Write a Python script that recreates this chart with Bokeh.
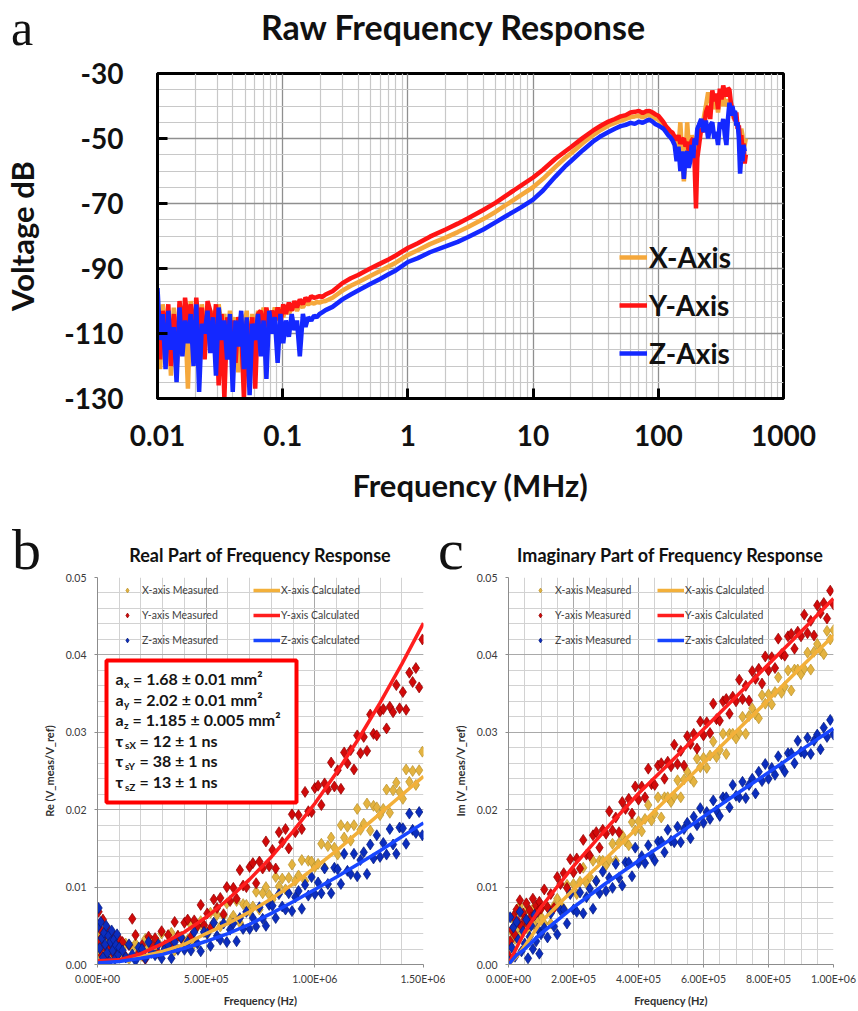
from bokeh.plotting import figure
from bokeh.models import (FixedTicker, CustomJSTickFormatter, PrintfTickFormatter, Legend,
                          LegendItem, Label, BoxAnnotation, Div)
from bokeh.layouts import column, row
from bokeh.embed import file_html
from bokeh.resources import INLINE

FONT = "Lato"

# ---------------- (a) Raw frequency response ----------------
freq_top = [0.0100, 0.0105, 0.0110, 0.0116, 0.0122, 0.0128, 0.0135, 0.0142, 0.0150, 0.0158,
            0.0166, 0.0175, 0.0184, 0.0194, 0.0204, 0.0215, 0.0226, 0.0238, 0.0251, 0.0264,
            0.0278, 0.0293, 0.0308, 0.0325, 0.0342, 0.0360, 0.0379, 0.0399, 0.0420, 0.0442,
            0.0466, 0.0490, 0.0516, 0.0544, 0.0572, 0.0603, 0.0635, 0.0668, 0.0704, 0.0741,
            0.0780, 0.0821, 0.0865, 0.0911, 0.0959, 0.101, 0.106, 0.112, 0.118, 0.124,
            0.130, 0.137, 0.145, 0.152, 0.160, 0.169, 0.178, 0.187, 0.197, 0.207,
            0.22, 0.25, 0.3, 0.35, 0.4, 0.5, 0.6, 0.7, 0.8, 1.0,
            1.2, 1.5, 2.0, 2.5, 3.0, 4.0, 5.0, 6.0, 7.0, 8.0,
            10, 12, 15, 18, 20, 25, 30, 35, 40, 45,
            50, 55, 60, 65, 70, 75, 80, 85, 90, 95,
            100, 105, 110, 115, 120, 125, 130, 135, 140, 145,
            150, 155, 160, 165, 170, 175, 180, 185, 190, 195,
            200, 205, 210, 220, 230, 240, 250, 260, 270, 280,
            290, 300, 310, 320, 330, 340, 350, 360, 370, 380,
            390, 400, 410, 420, 430, 440, 450, 460, 470, 480,
            490, 500]

x_axis_db = [-102, -121, -101, -115, -104, -123, -102, -118, -101, -110,
             -104, -127, -100, -112, -103, -117, -101, -109, -102, -114,
             -103, -120, -101, -108, -104, -116, -103, -110, -105, -122,
             -104, -109, -103, -118, -104, -111, -103, -108, -102, -113,
             -103, -107, -102, -106, -102, -105, -101.5, -104, -102, -101.5,
             -103, -101, -102, -100.5, -101, -100.5, -100.8, -100.3, -100.5, -100.2,
             -100.0, -99.0, -96.8, -95.3, -94.2, -92.3, -90.8, -89.4, -88.2, -85.8,
             -84.4, -82.5, -80.5, -78.8, -77.3, -74.8, -72.6, -70.6, -68.9, -67.4,
             -65.0, -62.4, -58.8, -56.0, -54.6, -51.4, -49.0, -47.3, -46.0, -45.2,
             -44.5, -44.0, -43.4, -43.2, -43.0, -43.5, -42.9, -42.8, -43.2, -43.8,
             -44.2, -45.0, -46.0, -47.0, -48.0, -48.5, -48.7, -50.0, -51.0, -53.0,
             -45.0, -55.0, -63.2, -56.0, -45.0, -52.0, -55.0, -49.0, -51.0, -53.0,
             -56.0, -50.0, -46.0, -48.0, -44.0, -40.0, -35.8, -39.0, -36.0, -41.0,
             -38.0, -42.0, -37.0, -40.0, -36.5, -40.0, -39.0, -38.0, -40.0, -42.0,
             -40.5, -44.0, -43.0, -46.0, -45.0, -48.0, -50.0, -47.0, -49.0, -53.0,
             -52.0, -50.0]

y_axis_db = [-100, -118, -103, -110, -101, -120, -104, -122, -100, -112,
             -99, -107, -101, -114, -99, -109, -102, -118, -100, -103,
             -111, -101, -126, -104, -130, -105, -112, -106, -119, -105,
             -108, -130, -106, -114, -105, -127, -104, -103, -110, -102,
             -108, -103, -106, -102, -107, -101, -104, -100.5, -103, -100,
             -102, -99.5, -101, -99, -100, -98.5, -99, -98.8, -98.5, -98.8,
             -98.0, -97.0, -94.5, -93.0, -92.0, -90.0, -88.5, -87.2, -86.0, -83.7,
             -82.2, -80.2, -78.0, -76.2, -74.6, -72.0, -69.8, -67.7, -66.0, -64.5,
             -62.0, -59.6, -56.3, -54.0, -52.7, -49.8, -47.6, -46.0, -44.8, -44.0,
             -43.2, -42.8, -42.0, -41.8, -41.5, -42.2, -41.6, -41.5, -42.0, -42.6,
             -43.0, -44.0, -45.0, -46.2, -47.0, -47.8, -48.2, -49.5, -50.5, -49.0,
             -51.6, -50.4, -50.0, -52.5, -51.0, -54.0, -53.0, -50.5, -50.0, -58.0,
             -71.5, -56.0, -53.0, -47.0, -48.0, -42.0, -40.0, -44.0, -35.2, -38.5,
             -36.2, -41.0, -34.7, -38.0, -33.7, -36.0, -37.0, -34.5, -35.0, -39.0,
             -41.0, -43.0, -44.6, -42.0, -47.0, -46.0, -51.0, -49.0, -53.6, -51.5,
             -57.7, -55.0]

z_axis_db = [-96, -112, -104, -121, -103, -115, -108, -125, -102, -117,
             -106, -113, -104, -120, -101, -128, -107, -110, -103, -116,
             -105, -123, -102, -112, -106, -118, -104, -128, -106, -114,
             -103, -121, -105, -129, -107, -112, -104, -117, -106, -124,
             -103, -110, -105, -119, -104, -113, -106, -111, -104, -109,
             -106, -117, -104, -108, -105, -106, -104.5, -105, -104, -103.5,
             -102.8, -101.8, -99.5, -98.0, -96.8, -94.8, -93.2, -91.8, -90.6, -88.0,
             -86.8, -85.0, -83.2, -81.8, -80.4, -78.0, -75.8, -74.0, -72.5, -71.2,
             -68.8, -66.0, -61.8, -58.6, -57.0, -53.6, -51.0, -49.2, -48.0, -47.0,
             -46.2, -45.8, -45.2, -45.5, -44.8, -45.2, -44.6, -44.2, -44.8, -45.6,
             -46.0, -46.5, -47.0, -48.0, -49.0, -49.6, -50.6, -52.0, -57.0, -52.5,
             -60.0, -54.0, -62.4, -55.0, -54.0, -59.0, -57.0, -52.0, -56.0, -50.0,
             -52.0, -47.0, -46.0, -44.0, -48.0, -44.5, -50.0, -46.0, -45.0, -50.0,
             -48.0, -52.0, -45.0, -47.0, -44.0, -49.0, -52.0, -44.0, -39.0, -43.0,
             -40.0, -42.0, -41.5, -46.0, -45.0, -50.0, -60.8, -55.0, -57.0, -52.0,
             -54.0, -54.0]

top_x_ticks = [0.01, 0.1, 1, 10, 100, 1000]
top_x_minor = [m * d for d in [0.01, 0.1, 1, 10, 100] for m in range(2, 10)]
top_y_ticks = [-130, -110, -90, -70, -50, -30]
top_y_minor = list(range(-130, -29, 5))

# ---------------- (b) Real part ----------------
freq_b_khz = [0, 5, 10, 15, 20, 25, 30, 35, 40, 45, 50, 55, 60, 65, 70, 75, 80, 85, 90, 95, 100,
              115, 130, 145, 160, 175, 190, 205, 220, 235, 250, 265, 280, 295, 310, 325, 340,
              355, 370, 385, 400, 415, 430, 445, 460, 475, 490, 505, 520, 535, 550, 565, 580,
              595, 610, 625, 640, 655, 670, 685, 700, 715, 730, 745, 760, 775, 790, 805, 820,
              835, 850, 865, 880, 895, 910, 925, 940, 955, 970, 985, 1000, 1015, 1030, 1045,
              1060, 1075, 1090, 1105, 1120, 1135, 1150, 1165, 1180, 1195, 1210, 1225, 1240,
              1255, 1270, 1285, 1300, 1315, 1330, 1345, 1360, 1375, 1390, 1405, 1420, 1435,
              1450, 1465, 1480, 1495]

re_x_meas = [0.0021, 0.0035, 0.0012, 0.0028, 0.0040, 0.0017, 0.0031, 0.0009, 0.0025, 0.0038,
             0.0014, 0.0029, 0.0020, 0.0033, 0.0011, 0.0026, 0.0018, 0.0030, 0.0015, 0.0023, 0.0019,
             0.0013, 0.0027, 0.0007, 0.0022, 0.0027, 0.0018, 0.0011, 0.0033, 0.0022, 0.0030,
             0.0017, 0.0028, 0.0040, 0.0022, 0.0027, 0.0041, 0.0018, 0.0037, 0.0036, 0.0029,
             0.0032, 0.0051, 0.0027, 0.0049, 0.0056, 0.0046, 0.0039, 0.0067, 0.0054, 0.0064,
             0.0049, 0.0063, 0.0079, 0.0056, 0.0063, 0.0082, 0.0054, 0.0078, 0.0077, 0.0069,
             0.0075, 0.0094, 0.0071, 0.0092, 0.0100, 0.0090, 0.0084, 0.0113, 0.0101, 0.0111,
             0.0097, 0.0112, 0.0129, 0.0108, 0.0115, 0.0135, 0.0108, 0.0134, 0.0133, 0.0126,
             0.0130, 0.0156, 0.0125, 0.0153, 0.0164, 0.0151, 0.0142, 0.0180, 0.0164, 0.0178,
             0.0160, 0.0180, 0.0201, 0.0174, 0.0182, 0.0208, 0.0173, 0.0205, 0.0203, 0.0193,
             0.0201, 0.0226, 0.0196, 0.0225, 0.0235, 0.0223, 0.0214, 0.0252, 0.0236, 0.0250,
             0.0232, 0.0251, 0.0275]

re_y_meas = [0.0052, 0.0068, 0.0031, 0.0045, 0.0012, 0.0058, 0.0024, 0.0039, 0.0008, 0.0047,
             0.0019, 0.0035, 0.0027, 0.0042, 0.0015, 0.0030, 0.0022, 0.0036, 0.0011, 0.0028, 0.0033,
             0.0029, 0.0010, 0.0025, 0.0059, 0.0038, 0.0015, 0.0025, 0.0007, 0.0036, 0.0025,
             0.0034, 0.0015, 0.0043, 0.0025, 0.0038, 0.0025, 0.0055, 0.0037, 0.0034, 0.0054,
             0.0058, 0.0036, 0.0057, 0.0050, 0.0077, 0.0051, 0.0066, 0.0047, 0.0084, 0.0073,
             0.0086, 0.0065, 0.0100, 0.0082, 0.0099, 0.0085, 0.0122, 0.0102, 0.0100, 0.0126,
             0.0131, 0.0105, 0.0133, 0.0124, 0.0159, 0.0127, 0.0148, 0.0124, 0.0171, 0.0158,
             0.0175, 0.0150, 0.0194, 0.0171, 0.0193, 0.0175, 0.0223, 0.0198, 0.0197, 0.0228,
             0.0231, 0.0206, 0.0234, 0.0226, 0.0261, 0.0230, 0.0251, 0.0227, 0.0274, 0.0260,
             0.0277, 0.0252, 0.0296, 0.0273, 0.0294, 0.0276, 0.0323, 0.0298, 0.0296, 0.0327,
             0.0330, 0.0305, 0.0333, 0.0326, 0.0361, 0.0331, 0.0352, 0.0329, 0.0377, 0.0365,
             0.0383, 0.0358, 0.0420]

re_z_meas = [0.0048, 0.0073, 0.0021, 0.0055, 0.0034, 0.0009, 0.0041, 0.0026, 0.0050, 0.0015,
             0.0037, 0.0004, 0.0029, 0.0044, 0.0018, 0.0032, 0.0007, 0.0025, 0.0039, 0.0013, 0.0022,
             0.0018, 0.0009, 0.0026, 0.0013, 0.0005, 0.0022, 0.0020, 0.0008, 0.0029, 0.0015,
             0.0012, 0.0026, 0.0008, 0.0020, 0.0025, 0.0008, 0.0029, 0.0019, 0.0035, 0.0019,
             0.0029, 0.0018, 0.0042, 0.0027, 0.0017, 0.0042, 0.0040, 0.0024, 0.0054, 0.0037,
             0.0032, 0.0053, 0.0029, 0.0045, 0.0053, 0.0030, 0.0060, 0.0046, 0.0068, 0.0046,
             0.0060, 0.0049, 0.0074, 0.0059, 0.0050, 0.0077, 0.0076, 0.0060, 0.0091, 0.0075,
             0.0071, 0.0092, 0.0069, 0.0087, 0.0095, 0.0072, 0.0103, 0.0089, 0.0113, 0.0091,
             0.0106, 0.0092, 0.0124, 0.0104, 0.0092, 0.0125, 0.0123, 0.0104, 0.0143, 0.0121,
             0.0117, 0.0143, 0.0114, 0.0135, 0.0145, 0.0117, 0.0155, 0.0137, 0.0167, 0.0139,
             0.0157, 0.0142, 0.0175, 0.0155, 0.0143, 0.0177, 0.0176, 0.0156, 0.0195, 0.0174,
             0.0170, 0.0197, 0.0167]

freq_calc_b_khz = [0, 100, 200, 300, 400, 500, 600, 700, 800, 900, 1000, 1100, 1200, 1300, 1400, 1500]
re_x_calc = [0.0003, 0.0005, 0.0010, 0.0017, 0.0026, 0.0040, 0.0053, 0.0068, 0.0085, 0.0104,
             0.0125, 0.0147, 0.0171, 0.0195, 0.0219, 0.0243]
re_y_calc = [0.0005, 0.0006, 0.0014, 0.0027, 0.0042, 0.0061, 0.0084, 0.0110, 0.0139, 0.0172,
             0.0208, 0.0248, 0.0291, 0.0338, 0.0388, 0.0441]
re_z_calc = [0.0002, 0.0004, 0.0008, 0.0013, 0.0021, 0.0030, 0.0040, 0.0052, 0.0066, 0.0081,
             0.0097, 0.0113, 0.0130, 0.0147, 0.0165, 0.0183]

# ---------------- (c) Imaginary part ----------------
freq_c_khz = [0, 5, 10, 15, 20, 25, 30, 35, 40, 45, 50, 55, 60, 65, 70, 75, 80, 85, 90, 95, 100,
              110, 120, 130, 140, 150, 160, 170, 180, 190, 200, 210, 220, 230, 240, 250, 260,
              270, 280, 290, 300, 310, 320, 330, 340, 350, 360, 370, 380, 390, 400, 410, 420,
              430, 440, 450, 460, 470, 480, 490, 500, 510, 520, 530, 540, 550, 560, 570, 580,
              590, 600, 610, 620, 630, 640, 650, 660, 670, 680, 690, 700, 710, 720, 730, 740,
              750, 760, 770, 780, 790, 800, 810, 820, 830, 840, 850, 860, 870, 880, 890, 900,
              910, 920, 930, 940, 950, 960, 970, 980, 990, 1000]

im_x_meas = [0.0010, 0.0025, 0.0042, 0.0058, 0.0033, 0.0068, 0.0047, 0.0076, 0.0040, 0.0063,
             0.0052, 0.0071, 0.0045, 0.0060, 0.0055, 0.0072, 0.0050, 0.0066, 0.0058, 0.0069, 0.0062,
             0.0053, 0.0074, 0.0053, 0.0076, 0.0085, 0.0077, 0.0072, 0.0103, 0.0092, 0.0104,
             0.0091, 0.0107, 0.0125, 0.0105, 0.0113, 0.0134, 0.0108, 0.0134, 0.0134, 0.0128,
             0.0135, 0.0156, 0.0134, 0.0157, 0.0167, 0.0159, 0.0154, 0.0184, 0.0173, 0.0185,
             0.0172, 0.0188, 0.0206, 0.0186, 0.0195, 0.0216, 0.0190, 0.0216, 0.0216, 0.0210,
             0.0217, 0.0238, 0.0216, 0.0239, 0.0249, 0.0241, 0.0236, 0.0266, 0.0255, 0.0267,
             0.0254, 0.0270, 0.0288, 0.0268, 0.0277, 0.0298, 0.0272, 0.0298, 0.0298, 0.0292,
             0.0299, 0.0320, 0.0298, 0.0321, 0.0331, 0.0323, 0.0318, 0.0348, 0.0337, 0.0349,
             0.0336, 0.0352, 0.0371, 0.0351, 0.0359, 0.0380, 0.0354, 0.0381, 0.0381, 0.0375,
             0.0382, 0.0403, 0.0381, 0.0404, 0.0414, 0.0406, 0.0401, 0.0431, 0.0420, 0.0432]

im_y_meas = [0.0012, 0.0030, 0.0045, 0.0062, 0.0038, 0.0071, 0.0055, 0.0083, 0.0049, 0.0066,
             0.0058, 0.0079, 0.0052, 0.0070, 0.0061, 0.0085, 0.0064, 0.0076, 0.0068, 0.0081, 0.0072,
             0.0097, 0.0074, 0.0091, 0.0073, 0.0113, 0.0104, 0.0118, 0.0099, 0.0136, 0.0119,
             0.0137, 0.0124, 0.0161, 0.0142, 0.0141, 0.0167, 0.0171, 0.0151, 0.0174, 0.0169,
             0.0198, 0.0173, 0.0190, 0.0171, 0.0210, 0.0201, 0.0214, 0.0195, 0.0230, 0.0213,
             0.0230, 0.0216, 0.0253, 0.0233, 0.0232, 0.0257, 0.0260, 0.0240, 0.0262, 0.0256,
             0.0284, 0.0259, 0.0276, 0.0257, 0.0295, 0.0285, 0.0298, 0.0279, 0.0314, 0.0296,
             0.0313, 0.0299, 0.0337, 0.0317, 0.0315, 0.0340, 0.0343, 0.0324, 0.0346, 0.0340,
             0.0368, 0.0343, 0.0360, 0.0341, 0.0379, 0.0369, 0.0382, 0.0363, 0.0398, 0.0380,
             0.0397, 0.0383, 0.0421, 0.0401, 0.0399, 0.0424, 0.0427, 0.0408, 0.0430, 0.0424,
             0.0452, 0.0428, 0.0444, 0.0425, 0.0464, 0.0454, 0.0467, 0.0447, 0.0483, 0.0465]

im_z_meas = [0.0005, 0.0061, 0.0022, 0.0048, 0.0010, 0.0055, 0.0032, 0.0068, 0.0017, 0.0043,
             0.0027, 0.0058, 0.0008, 0.0036, 0.0050, 0.0020, 0.0064, 0.0030, 0.0046, 0.0014, 0.0039,
             0.0047, 0.0035, 0.0066, 0.0049, 0.0039, 0.0070, 0.0071, 0.0053, 0.0091, 0.0071,
             0.0068, 0.0093, 0.0066, 0.0087, 0.0098, 0.0072, 0.0108, 0.0092, 0.0120, 0.0095,
             0.0112, 0.0099, 0.0130, 0.0112, 0.0102, 0.0132, 0.0132, 0.0114, 0.0151, 0.0131,
             0.0140, 0.0131, 0.0154, 0.0141, 0.0134, 0.0159, 0.0159, 0.0145, 0.0174, 0.0160,
             0.0158, 0.0178, 0.0158, 0.0175, 0.0183, 0.0163, 0.0191, 0.0180, 0.0202, 0.0183,
             0.0197, 0.0188, 0.0212, 0.0199, 0.0192, 0.0216, 0.0216, 0.0203, 0.0232, 0.0218,
             0.0216, 0.0236, 0.0215, 0.0232, 0.0240, 0.0221, 0.0249, 0.0237, 0.0259, 0.0240,
             0.0254, 0.0245, 0.0269, 0.0256, 0.0249, 0.0273, 0.0273, 0.0260, 0.0289, 0.0275,
             0.0273, 0.0293, 0.0272, 0.0289, 0.0297, 0.0278, 0.0306, 0.0294, 0.0316, 0.0297]

freq_calc_c_khz = [0, 25, 50, 100, 200, 300, 400, 500, 600, 700, 800, 900, 1000]
im_x_calc = [0.0000, 0.0010, 0.0024, 0.0055, 0.0097, 0.0137, 0.0178, 0.0219, 0.0260, 0.0301,
             0.0342, 0.0384, 0.0425]
im_y_calc = [0.0000, 0.0022, 0.0042, 0.0074, 0.0127, 0.0175, 0.0221, 0.0262, 0.0304, 0.0346,
             0.0388, 0.0430, 0.0473]
im_z_calc = [0.0000, 0.0012, 0.0020, 0.0040, 0.0074, 0.0105, 0.0134, 0.0162, 0.0191, 0.0220,
             0.0248, 0.0277, 0.0305]

series_labels = ["X", "Y", "Z"]
top_colors = ["#F5A83C", "#FF1414", "#1428FF"]
meas_fill = ["#E4B340", "#D10A0A", "#0B2DBE"]
meas_line = ["#B8902A", "#8E0000", "#051A7A"]
calc_colors = ["#F3B03A", "#FF1E1E", "#1846FF"]


def span(text, left, top, family, size, lh, bold=False, center=False):
    st = (f"position:absolute;left:{left}px;top:{top}px;font-family:{family};font-size:{size}px;"
          f"line-height:{lh}px;color:#111111;white-space:nowrap;")
    if bold:
        st += "font-weight:bold;"
    if center:
        st += "transform:translateX(-50%);"
    return f'<span style="{st}">{text}</span>'


SERIF_CSS = "'Liberation Serif'"

# ============ header of a ============
head_a = Div(width=858, height=56, margin=0,
             text='<div style="position:relative;width:858px;height:56px;">'
                  + span("a", 11, 18, SERIF_CSS, 50, 20)
                  + span("Raw Frequency Response", 453, 10, "Lato", 34, 34, bold=True, center=True)
                  + "</div>")

# ============ figure a ============
p1 = figure(width=858, height=462, x_axis_type="log", x_range=(0.01, 1000), y_range=(-130, -30),
            output_backend="svg", toolbar_location=None,
            min_border_left=155, min_border_right=75, min_border_top=17, min_border_bottom=120)
p1.outline_line_color = "black"
p1.outline_line_width = 3
xt = FixedTicker(ticks=top_x_ticks, minor_ticks=top_x_minor)
yt = FixedTicker(ticks=top_y_ticks, minor_ticks=top_y_minor)
p1.xaxis.ticker = xt
p1.xgrid.ticker = xt
p1.yaxis.ticker = yt
p1.ygrid.ticker = yt
p1.xaxis.formatter = CustomJSTickFormatter(code="return tick.toString();")
p1.yaxis.formatter = CustomJSTickFormatter(code="return tick.toString();")
for g in (p1.xgrid, p1.ygrid):
    g.grid_line_color = "#8f8f8f"
    g.grid_line_width = 1.3
    g.minor_grid_line_color = "#c8c8c8"
    g.minor_grid_line_width = 1.2
for ax in (p1.xaxis, p1.yaxis):
    ax.axis_line_width = 3
    ax.axis_line_color = "black"
    ax.major_tick_in = 10
    ax.major_tick_out = 0
    ax.major_tick_line_width = 3
    ax.minor_tick_line_color = None
    ax.major_label_text_font = FONT
    ax.major_label_text_font_style = "bold"
    ax.major_label_text_font_size = "28px"
    ax.major_label_text_color = "#111111"
    ax.axis_label_text_font = FONT
    ax.axis_label_text_font_style = "bold"
    ax.axis_label_text_font_size = "31px"
    ax.axis_label_text_color = "#111111"
p1.yaxis.major_label_standoff = 30
p1.xaxis.major_label_standoff = 22
p1.yaxis.axis_label = "Voltage dB"
p1.xaxis.axis_label = "Frequency (MHz)"
p1.yaxis.axis_label_standoff = 20
p1.xaxis.axis_label_standoff = 17

top_series = [x_axis_db, y_axis_db, z_axis_db]
top_renderers = []
for vals, col in zip(top_series, top_colors):
    top_renderers.append(p1.line(freq_top, vals, line_color=col, line_width=4.5))

leg1 = Legend(items=[LegendItem(label=f"{s}-Axis", renderers=[r]) for s, r in zip(series_labels, top_renderers)],
              location=(462, 28), glyph_width=28, glyph_height=30, label_height=30, spacing=14,
              padding=0, margin=0, label_standoff=2, border_line_color=None, background_fill_alpha=0,
              label_text_font=FONT, label_text_font_style="bold", label_text_font_size="28px",
              label_text_color="#111111")
p1.add_layout(leg1)

# ============ header of b and c ============
head_bc = Div(width=858, height=53, margin=0,
              text='<div style="position:relative;width:858px;height:53px;">'
                   + span("b", 12, 22, SERIF_CSS, 58, 20)
                   + span("Real Part of Frequency Response", 260, 28, "Lato", 18, 18, bold=True, center=True)
                   + span("c", 438, 22, SERIF_CSS, 58, 20)
                   + span("Imaginary Part of Frequency Response", 670, 28, "Lato", 18, 18, bold=True, center=True)
                   + "</div>")


def make_panel(width, left, right, xmax, major_step, minor_step, freq_khz, meas, fcalc_khz, calc,
               ylabel, leg_meas_x, leg_calc_x):
    p = figure(width=width, height=438, x_range=(0, xmax), y_range=(0, 0.05),
               output_backend="svg", toolbar_location=None,
               min_border_left=left, min_border_right=right, min_border_top=6, min_border_bottom=40)
    p.outline_line_color = None
    xmaj = [i * major_step for i in range(int(round(xmax / major_step)) + 1)]
    xmin = [i * minor_step for i in range(int(round(xmax / minor_step)) + 1)]
    xtk = FixedTicker(ticks=xmaj, minor_ticks=xmin)
    ytk = FixedTicker(ticks=[0, 0.01, 0.02, 0.03, 0.04, 0.05],
                      minor_ticks=[i * 0.002 for i in range(26)])
    p.xaxis.ticker = xtk
    p.xgrid.ticker = xtk
    p.yaxis.ticker = ytk
    p.ygrid.ticker = ytk
    p.xaxis.formatter = CustomJSTickFormatter(
        code="return tick.toExponential(2).replace('e+', 'E+0').replace('e-', 'E-0');")
    p.yaxis.formatter = PrintfTickFormatter(format="%.2f")
    for g in (p.xgrid, p.ygrid):
        g.grid_line_color = "#a9a9a9"
        g.grid_line_width = 1
        g.minor_grid_line_color = "#d2d2d2"
        g.minor_grid_line_width = 1
    for ax in (p.xaxis, p.yaxis):
        ax.axis_line_color = "#8c8c8c"
        ax.major_tick_line_color = "#8c8c8c"
        ax.major_tick_in = 0
        ax.major_tick_out = 3
        ax.minor_tick_line_color = None
        ax.major_label_text_font = FONT
        ax.major_label_text_font_size = "10.5px"
        ax.major_label_text_color = "#3a3a3a"
        ax.axis_label_text_font = FONT
        ax.axis_label_text_font_style = "bold"
        ax.axis_label_text_font_size = "11px"
        ax.axis_label_text_color = "#303030"
    p.xaxis.major_label_standoff = 4
    p.yaxis.major_label_standoff = 7
    p.xaxis.axis_label = "Frequency (Hz)"
    p.yaxis.axis_label = ylabel
    p.xaxis.axis_label_standoff = 6
    p.yaxis.axis_label_standoff = 7

    freq_hz = [f * 1e3 for f in freq_khz]
    fcalc_hz = [f * 1e3 for f in fcalc_khz]
    mr, cr = [], []
    for vals, fc, lc in zip(meas, meas_fill, meas_line):
        mr.append(p.scatter(freq_hz, vals, marker="diamond", size=11, fill_color=fc,
                            line_color=lc, line_width=0.7))
    for vals, col in zip(calc, calc_colors):
        cr.append(p.line(fcalc_hz, vals, line_color=col, line_width=3.5))

    common = dict(glyph_height=14, label_height=14, spacing=11, padding=0, margin=0,
                  border_line_color=None, background_fill_alpha=0, label_text_font=FONT,
                  label_text_font_size="10.5px", label_text_color="#404040")
    lm = Legend(items=[LegendItem(label=f"{s}-axis Measured", renderers=[r]) for s, r in zip(series_labels, mr)],
                location=(leg_meas_x, 317), glyph_width=12, label_standoff=9, **common)
    lc = Legend(items=[LegendItem(label=f"{s}-axis Calculated", renderers=[r]) for s, r in zip(series_labels, cr)],
                location=(leg_calc_x, 317), glyph_width=27, label_standoff=1, **common)
    p.add_layout(lm)
    p.add_layout(lc)
    return p


pb = make_panel(445, 97, 22, 1.5e6, 5e5, 1e5, freq_b_khz, [re_x_meas, re_y_meas, re_z_meas],
                freq_calc_b_khz, [re_x_calc, re_y_calc, re_z_calc], "Re (V_meas/V_ref)", 24, 156)
pc = make_panel(413, 63, 25, 1e6, 2e5, 5e4, freq_c_khz, [im_x_meas, im_y_meas, im_z_meas],
                freq_calc_c_khz, [im_x_calc, im_y_calc, im_z_calc], "Im (V_meas/V_ref)", 26, 149)

# fitted parameter box on panel b
pb.add_layout(BoxAnnotation(left=9, right=199, bottom=162, top=304,
                            left_units="screen", right_units="screen",
                            top_units="screen", bottom_units="screen",
                            fill_color="white", fill_alpha=1, line_color="#FF0000",
                            line_alpha=1, line_width=4))
fit_rows = [("a", "x", "= 1.68 ± 0.01 mm²"),
            ("a", "y", "= 2.02 ± 0.01 mm²"),
            ("a", "z", "= 1.185 ± 0.005 mm²"),
            ("τ", "sX", "= 12 ± 1 ns"),
            ("τ", "sY", "= 38 ± 1 ns"),
            ("τ", "sZ", "= 13 ± 1 ns")]
main_w = {"a": 8.5, "τ": 9.5}
sub_w = {"x": 5.5, "y": 5.5, "z": 5.0, "sX": 11.0, "sY": 11.0, "sZ": 11.0}
row_y = [286, 265.5, 245, 224.5, 204, 183]
for (m, s, rest), yy in zip(fit_rows, row_y):
    x0 = 18
    pb.add_layout(Label(x=x0, y=yy, x_units="screen", y_units="screen", text=m, text_font=FONT,
                        text_font_style="bold", text_font_size="16px", text_color="#151515",
                        text_baseline="middle"))
    pb.add_layout(Label(x=x0 + main_w[m], y=yy - 5, x_units="screen", y_units="screen", text=s,
                        text_font=FONT, text_font_style="bold", text_font_size="10px",
                        text_color="#151515", text_baseline="middle"))
    pb.add_layout(Label(x=x0 + main_w[m] + sub_w[s] + 3.5, y=yy, x_units="screen", y_units="screen",
                        text=rest, text_font=FONT, text_font_style="bold", text_font_size="16px",
                        text_color="#151515", text_baseline="middle"))

layout = column(head_a, p1, head_bc, row(pb, pc), spacing=0)
open("out.html", "w").write(file_html(layout, INLINE))
